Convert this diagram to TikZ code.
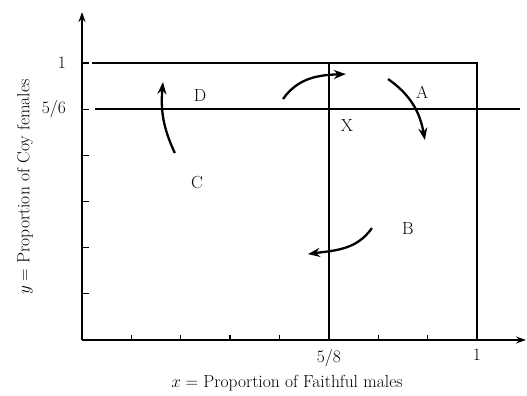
\documentclass[tikz,border=0pt]{standalone}
\usepackage{fontspec}
\usetikzlibrary{arrows.meta, positioning, calc}
\tikzset{
    axis/.style={-{Stealth[length=10pt, width=7pt]}, line width=1.7pt},
    tickmark/.style={line width=1.3pt},
    border/.style={line width=1.6pt},
    flow/.style={-{Stealth[length=12pt, width=9pt]}, line width=2.3pt},
    region/.style={inner sep=0pt},
    ticklabel/.style={inner sep=2pt},
}
\begin{document}
\begin{tikzpicture}[x=395pt, y=277pt, font=\fontsize{17.5}{20}\selectfont]
    \useasboundingbox (-0.2076,-0.2022) rectangle (1.1266,1.2274);
    % axes
    \coordinate (O) at (0,0);
    \coordinate (xend) at (1.124,0);
    \coordinate (yend) at (0,1.184);
    \draw[axis] (O) -- (xend);
    \draw[axis] (O) -- (yend);
    \foreach \i in {1,...,8} \draw[tickmark] (\i/8,0) -- ++(0,5pt);
    \foreach \i in {1,...,6} \draw[tickmark] (0,\i/6) -- ++(7pt,0);
    % boundary lines
    \coordinate (top0) at (0.025,1);
    \coordinate (top1) at (1,1);
    \coordinate (bot1) at (1,0);
    \coordinate (mid0) at (0.033,5/6);
    \coordinate (mid1) at (1.109,5/6);
    \coordinate (q0) at (5/8,0);
    \coordinate (q1) at (5/8,1);
    \draw[border] (top0) -- (top1) -- (bot1);
    \draw[border] (mid0) -- (mid1);
    \draw[border] (q0) -- (q1);
    % tick labels
    \node[ticklabel, anchor=east] (y1) at (-0.035,1) {1};
    \node[ticklabel, anchor=east] (y56) at (-0.035,5/6) {5/6};
    \node[ticklabel, anchor=north] (x58) at (5/8,-0.025) {5/8};
    \node[ticklabel, anchor=north] (x1) at (1,-0.025) {1};
    % axis titles
    \node (xlab) at (0.519,-0.155) {$x=$ Proportion of Faithful males};
    \node[rotate=90] (ylab) at (-0.144,0.552) {$y=$ Proportion of Coy females};
    % regions and equilibrium
    \node[region] (D) at (0.299,0.884) {D};
    \node[region] (C) at (0.291,0.570) {C};
    \node[region] (X) at (0.671,0.776) {X};
    \node[region] (A) at (0.861,0.895) {A};
    \node[region] (B) at (0.825,0.404) {B};
    % flow arrows
    \coordinate (c0) at (0.235,0.675);
    \coordinate (c1) at (0.205,0.931);
    \coordinate (d0) at (0.509,0.870);
    \coordinate (d1) at (0.668,0.960);
    \coordinate (a0) at (0.775,0.942);
    \coordinate (a1) at (0.868,0.722);
    \coordinate (b0) at (0.734,0.404);
    \coordinate (b1) at (0.572,0.310);
    \draw[flow] (c0) to[out=115, in=-95] (c1);
    \draw[flow] (d0) to[out=55, in=182] (d1);
    \draw[flow] (a0) to[out=-35, in=100] (a1);
    \draw[flow] (b0) to[out=235, in=8] (b1);
\end{tikzpicture}
\end{document}
